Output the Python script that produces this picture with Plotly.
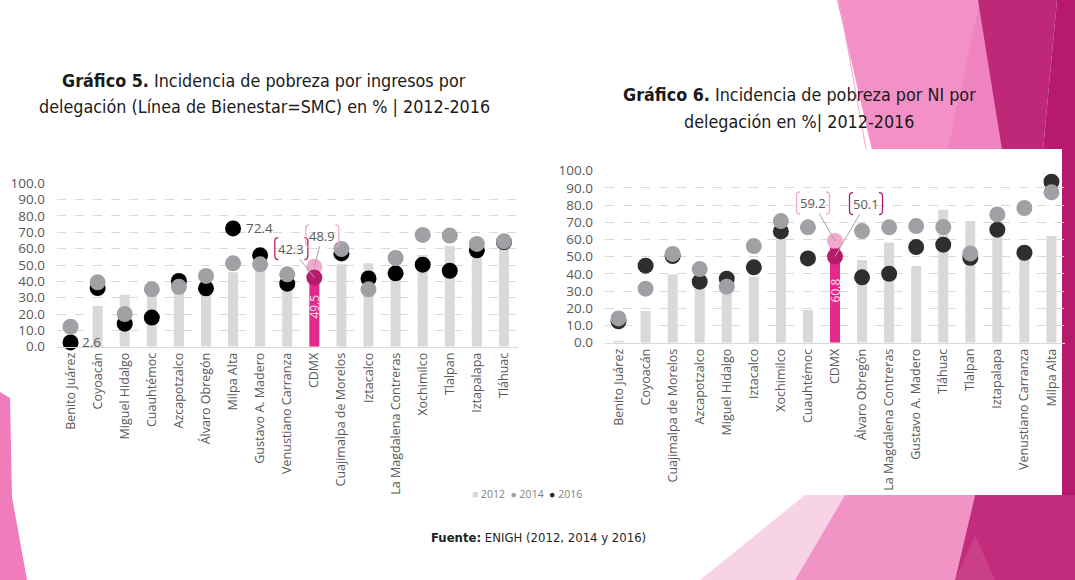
import plotly.graph_objects as go

W, H = 1075, 580

# ---------------- data ----------------
cats_left = ["Benito Juárez", "Coyoacán", "Miguel Hidalgo", "Cuauhtémoc", "Azcapotzalco",
             "Álvaro Obregón", "Milpa Alta", "Gustavo A. Madero", "Venustiano Carranza", "CDMX",
             "Cuajimalpa de Morelos", "Iztacalco", "La Magdalena Contreras", "Xochimilco",
             "Tlalpan", "Iztapalapa", "Tláhuac"]
left_2012 = [1.5, 24.9, 31.8, 34.0, 36.0, 38.0, 45.5, 46.3, 42.0, 49.5, 50.4, 51.0, 49.0, 56.1, 61.6, 60.0, 61.5]
left_2014 = [12.2, 39.4, 20.0, 35.1, 36.7, 43.3, 51.0, 50.4, 44.3, 48.9, 59.8, 35.1, 54.3, 68.4, 68.0, 62.9, 64.5]
left_2016 = [2.6, 35.9, 14.1, 17.8, 40.2, 35.7, 72.4, 55.9, 38.6, 42.3, 57.1, 41.8, 44.9, 50.2, 46.5, 59.0, 64.0]

cats_right = ["Benito Juárez", "Coyoacán", "Cuajimalpa de Morelos", "Azcapotzalco", "Miguel Hidalgo",
              "Iztacalco", "Xochimilco", "Cuauhtémoc", "CDMX", "Álvaro Obregón",
              "La Magdalena Contreras", "Gustavo A. Madero", "Tláhuac", "Tlalpan", "Iztapalapa",
              "Venustiano Carranza", "Milpa Alta"]
right_2012 = [1.0, 18.4, 39.7, 34.0, 32.0, 38.4, 62.0, 19.0, 60.8, 48.1, 58.3, 44.6, 77.3, 70.7, 66.0, 51.0, 62.0]
right_2014 = [14.1, 31.4, 51.6, 42.8, 32.6, 56.2, 70.7, 67.1, 59.2, 64.9, 67.1, 67.8, 67.2, 51.9, 74.6, 78.3, 87.4]
right_2016 = [12.4, 44.8, 50.4, 35.5, 37.2, 43.8, 64.7, 49.0, 50.1, 38.0, 40.1, 55.6, 57.0, 49.4, 65.7, 52.3, 93.6]

y_ticks = [0, 10, 20, 30, 40, 50, 60, 70, 80, 90, 100]
highlight = "CDMX"

# ---------------- styles ----------------
BAR = "#D9D9DC"
G14 = "#A0A1A5"
B16_L = "#000000"
B16_R = "#2E2E2E"
MAG = "#E3298B"
PINK14 = "#F3A8CE"
DARK16 = "#B71C6B"
TXT = "#595959"
TICKFONT = "Open Sans"
TITLEFONT = "DejaVu Sans Condensed, Liberation Sans, sans-serif"


def fx(x):
    return x / W


def fy(y):
    return 1 - y / H


fig = go.Figure()


def add_chart(cats, v12, v14, v16, xa, ya, black):
    hi = cats.index(highlight)
    colors = [MAG if c == highlight else BAR for c in cats]
    fig.add_trace(go.Bar(x=cats, y=v12, marker=dict(color=colors, line=dict(width=0)),
                         width=0.37, xaxis=xa, yaxis=ya, showlegend=False, hoverinfo="skip"))
    y16 = [None if i == hi else v for i, v in enumerate(v16)]
    y14 = [None if i == hi else v for i, v in enumerate(v14)]
    fig.add_trace(go.Scatter(x=cats, y=y16, mode="markers", marker=dict(size=16, color=black),
                             xaxis=xa, yaxis=ya, showlegend=False, cliponaxis=False))
    fig.add_trace(go.Scatter(x=cats, y=y14, mode="markers", marker=dict(size=16, color=G14),
                             xaxis=xa, yaxis=ya, showlegend=False, cliponaxis=False))
    fig.add_trace(go.Scatter(x=[highlight], y=[v14[hi]], mode="markers",
                             marker=dict(size=16, color=PINK14),
                             xaxis=xa, yaxis=ya, showlegend=False, cliponaxis=False))
    fig.add_trace(go.Scatter(x=[highlight], y=[v16[hi]], mode="markers",
                             marker=dict(size=16, color=DARK16),
                             xaxis=xa, yaxis=ya, showlegend=False, cliponaxis=False))


add_chart(cats_left, left_2012, left_2014, left_2016, "x", "y", B16_L)
add_chart(cats_right, right_2012, right_2014, right_2016, "x2", "y2", B16_R)

axis_common = dict(showgrid=False, showline=True, linecolor="#D9D9D9", linewidth=1,
                   tickangle=-90, tickfont=dict(family=TICKFONT, size=12.5, color=TXT),
                   ticks="", type="category", range=[-0.5, 16.5], automargin=False)
yaxis_common = dict(range=[0, 100], tickvals=y_ticks, ticktext=[f"{v:.1f}" for v in y_ticks],
                    showgrid=True, gridcolor="#D9D9D9", griddash="dash", gridwidth=1,
                    zeroline=False, showline=False, ticks="",
                    tickfont=dict(family=TICKFONT, size=13.5, color=TXT), automargin=False,
                    ticklabelstandoff=11)

fig.update_layout(
    xaxis=dict(domain=[fx(57), fx(517.5)], anchor="y", **axis_common),
    yaxis=dict(domain=[fy(346.7), fy(183.3)], anchor="x", **yaxis_common),
    xaxis2=dict(domain=[fx(605), fx(1065)], anchor="y2", **axis_common),
    yaxis2=dict(domain=[fy(342.7), fy(170.7)], anchor="x2", **yaxis_common),
)

# ---------------- background shapes ----------------
shapes = []


def poly(pts, color, layer="below"):
    d = "M " + " L ".join(f"{fx(x):.5f},{fy(y):.5f}" for x, y in pts) + " Z"
    shapes.append(dict(type="path", path=d, xref="paper", yref="paper",
                       fillcolor=color, line=dict(width=0), layer=layer))


# top right decorations
poly([(837, 0), (980, 0), (1002, 150), (872, 150)], "#F391C6")
poly([(980, 0), (1002, 150), (948, 150)], "#EF83BF")
poly([(978, 0), (1057, 0), (1043, 150), (1002, 150)], "#BF2878")
poly([(1057, 0), (1075, 0), (1075, 580), (1060, 580), (1060, 150), (1043, 150)], "#B7196D")
# bottom right decorations
poly([(805, 495), (845, 495), (795, 580), (700, 580)], "#F8D3E6")
poly([(845, 495), (975, 495), (955, 580), (795, 580)], "#F293C6")
poly([(975, 495), (1075, 495), (1075, 580), (955, 580)], "#C32C7C")
poly([(955, 580), (975, 535), (995, 580)], "#CB3F86")
# left edge
poly([(0, 392), (10, 398), (12, 497), (27, 580), (0, 580)], "#F07CBB")
# white panel of chart 6
poly([(545, 149), (1062, 149), (1062, 495), (545, 495)], "#FFFFFF")
shapes.append(dict(type="line", xref="paper", yref="paper", x0=fx(839), y0=fy(0), x1=fx(866), y1=fy(149),
                   line=dict(color="#F4A6CC", width=1), layer="below"))


# callout brackets (pixel-sized shapes anchored to the CDMX points)
def bracket(xref, yref, yval, cx, cy, hw, hh, color, r=3.5):
    Y = -cy
    l, rr = cx - hw, cx + hw
    t, b = Y + hh, Y - hh
    left = (f"M {l + r},{t} Q {l},{t} {l},{t - r} L {l},{b + r} Q {l},{b} {l + r},{b}")
    right = (f"M {rr - r},{t} Q {rr},{t} {rr},{t - r} L {rr},{b + r} Q {rr},{b} {rr - r},{b}")
    for p in (left, right):
        shapes.append(dict(type="path", path=p, xref=xref, yref=yref,
                           xsizemode="pixel", ysizemode="pixel",
                           xanchor=highlight, yanchor=yval,
                           line=dict(color=color, width=1.3), layer="above"))


annotations = []


def callout(xref, yref, yval, ax, ay, color):
    annotations.append(dict(x=highlight, y=yval, xref=xref, yref=yref, text=f"{yval:.1f}",
                            showarrow=True, arrowhead=0, arrowwidth=1, arrowcolor="#A6A6A6",
                            ax=ax, ay=ay, standoff=0,
                            font=dict(family=TICKFONT, size=13, color=TXT)))
    bracket(xref, yref, yval, ax, ay, 16.5, 11, color)


hl = cats_left.index(highlight)
hr = cats_right.index(highlight)
callout("x", "y", left_2016[hl], -23, -29, "#C2185B")
callout("x", "y", left_2014[hl], 8, -31, "#F4A6CC")
callout("x2", "y2", right_2014[hr], -22, -38, "#F4A6CC")
callout("x2", "y2", right_2016[hr], 31, -53, "#B0186A")

# bar value labels inside CDMX bars
annotations.append(dict(x=highlight, y=left_2012[hl] / 2, xref="x", yref="y", text=f"{left_2012[hl]:.1f}",
                        textangle=-90, showarrow=False, font=dict(family=TICKFONT, size=12, color="#FBE3EF")))
annotations.append(dict(x=highlight, y=right_2012[hr] / 2, xref="x2", yref="y2", text=f"{right_2012[hr]:.1f}",
                        textangle=-90, showarrow=False, font=dict(family=TICKFONT, size=12, color="#FBE3EF")))

# point labels
annotations.append(dict(x=cats_left[0], y=left_2016[0], xref="x", yref="y", text=f"{left_2016[0]:.1f}",
                        showarrow=False, xshift=21, font=dict(family=TICKFONT, size=13.5, color=TXT)))
mi = cats_left.index("Milpa Alta")
annotations.append(dict(x=cats_left[mi], y=left_2016[mi], xref="x", yref="y", text=f"{left_2016[mi]:.1f}",
                        showarrow=False, xshift=26, font=dict(family=TICKFONT, size=13.5, color=TXT)))

# titles
tf = dict(family=TITLEFONT, size=17.8, color="#1A1A1A")
for txt, x, y in [
    ("<b>Gráfico 5.</b> Incidencia de pobreza por ingresos por", 264, 80),
    ("delegación (Línea de Bienestar=SMC) en % | 2012-2016", 264, 106),
    ("<b>Gráfico 6.</b> Incidencia de pobreza por NI por", 799, 95),
    ("delegación en %| 2012-2016", 799, 121),
]:
    annotations.append(dict(x=fx(x), y=fy(y), xref="paper", yref="paper", text=txt, showarrow=False,
                            xanchor="center", yanchor="middle", font=tf))

# legend
legend_txt = (f"<span style='color:{BAR}'>■</span> 2012  "
              f"<span style='color:{G14}'>●</span> 2014  "
              f"<span style='color:#262626'>●</span> 2016")
annotations.append(dict(x=fx(527), y=fy(494), xref="paper", yref="paper", text=legend_txt, showarrow=False,
                        xanchor="center", yanchor="middle",
                        font=dict(family=TICKFONT, size=10.5, color="#7F7F7F")))
# source
annotations.append(dict(x=fx(538), y=fy(537), xref="paper", yref="paper",
                        text="<b>Fuente:</b> ENIGH (2012, 2014 y 2016)", showarrow=False,
                        xanchor="center", yanchor="middle",
                        font=dict(family=TITLEFONT, size=13, color="#1F1F1F")))

fig.update_layout(
    width=W, height=H, margin=dict(l=0, r=0, t=0, b=0),
    paper_bgcolor="#FFFFFF", plot_bgcolor="rgba(0,0,0,0)",
    shapes=shapes, annotations=annotations, showlegend=False, barmode="overlay",
)

fig.write_html("out.html")
